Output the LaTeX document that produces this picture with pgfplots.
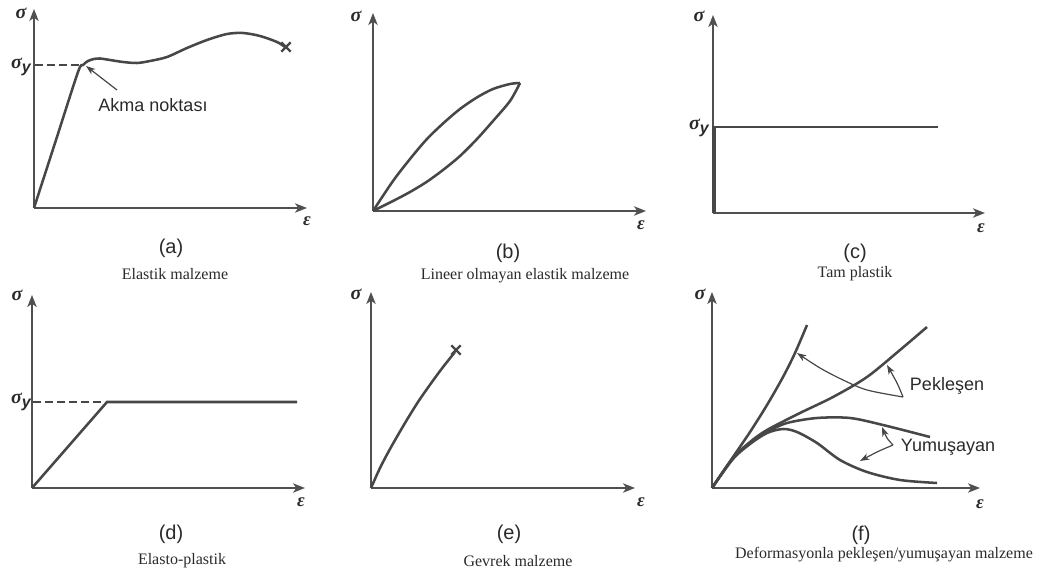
\documentclass[border=0pt]{standalone}
\usepackage{pgfplots}
\pgfplotsset{compat=1.18}
\usetikzlibrary{arrows.meta}
\usepackage{fontspec}
\setmainfont{Liberation Serif}
\newfontfamily\hv{Liberation Sans}

\definecolor{curve}{HTML}{474747}
\definecolor{axisgray}{HTML}{505050}
\definecolor{ink}{HTML}{2A2A2A}

% symbols and labels
\newcommand{\sig}{{\fontsize{15}{15}\selectfont\bfseries\itshape σ}}
\newcommand{\sigy}{{\fontsize{15}{15}\selectfont\bfseries\itshape σ\raisebox{-0.35ex}{\fontsize{12}{12}\selectfont\hv\bfseries\itshape y}}}
\newcommand{\eps}{{\fontsize{14}{14}\selectfont\bfseries\itshape ε}}
\newcommand{\ptag}[1]{{\hv\fontsize{15}{17}\selectfont #1}}
\newcommand{\capt}[1]{{\fontsize{12}{14}\selectfont #1}}
\newcommand{\note}[1]{{\hv\fontsize{13.5}{16}\selectfont #1}}

\pgfplotsset{
  panel/.style={
    x=0.75pt, y=0.75pt, anchor=south west,
    axis lines=left, clip=false,
    xtick=\empty, ytick=\empty,
    axis line style={line width=1.4pt, draw=axisgray,
      -{Stealth[length=9pt,width=7pt,inset=2.5pt]}},
  },
  crv/.style={line width=1.9pt, draw=curve, no markers},
  brk/.style={line width=1.7pt, draw=curve, mark=x, mark size=5pt,
    only marks},
  pointer/.style={line width=0.9pt, draw=curve, no markers,
    -{Stealth[length=7pt,width=5pt,inset=2pt]}},
}

\begin{document}
\begin{tikzpicture}
\path[use as bounding box] (0,0) rectangle (783pt,428.25pt);

% (a) elastic material with yield point
\begin{axis}[panel, at={(34*0.75pt,363*0.75pt)},
  xmin=34, xmax=307, ymin=363, ymax=562]
  \addplot[crv, smooth, tension=0.5] coordinates {
    (34,363) (56,431) (78,499) (83,506) (88,510) (94,512) (100,512.5)
    (110,511) (123,509) (137,508) (150,510) (167,514) (187,523)
    (207,531) (227,537) (243,538) (260,535) (277,529) (285,524)};
  \addplot[brk] coordinates {(286,524)};
  \addplot[line width=1.3pt, draw=curve, dash pattern=on 6pt off 3pt,
    no markers] coordinates {(35,506) (80,506)};
  \addplot[pointer] coordinates {(117,481) (86,505)};
  \node[ink] at (153,466) {\note{Akma noktası}};
  \node[ink] at (21,558) {\sig};
  \node[ink] at (21,504) {\sigy};
  \node[ink] at (307,350) {\eps};
  \node[ink] at (171,323) {\ptag{(a)}};
  \node[ink] at (175,297) {\capt{Elastik malzeme}};
\end{axis}

% (b) nonlinear elastic material
\begin{axis}[panel, at={(373*0.75pt,360*0.75pt)},
  xmin=373, xmax=646, ymin=360, ymax=558]
  \addplot[crv, smooth] coordinates {
    (373,360) (393,390) (410,412) (426.5,431.5) (443,447.5) (460,462)
    (477,473.6) (493,482) (510,487) (520,488)};
  \addplot[crv, smooth] coordinates {
    (373,360) (393,370) (410,379) (426.5,389) (443,401) (460,415)
    (477,432) (493,450) (510,470) (520,488)};
  \node[ink] at (356,555) {\sig};
  \node[ink] at (641,346) {\eps};
  \node[ink] at (508,318) {\ptag{(b)}};
  \node[ink] at (525,295) {\capt{Lineer olmayan elastik malzeme}};
\end{axis}

% (c) perfectly plastic
\begin{axis}[panel, at={(713*0.75pt,358*0.75pt)},
  xmin=713, xmax=985, ymin=358, ymax=556]
  \addplot[line width=3pt, draw=curve, no markers] coordinates {
    (714,358) (714,445)};
  \addplot[crv] coordinates {(714,444) (938,444)};
  \node[ink] at (699,555) {\sig};
  \node[ink] at (699,443) {\sigy};
  \node[ink] at (981,343) {\eps};
  \node[ink] at (855,318) {\ptag{(c)}};
  \node[ink] at (855,297) {\capt{Tam plastik}};
\end{axis}

% (d) elasto-plastic
\begin{axis}[panel, at={(32*0.75pt,83*0.75pt)},
  xmin=32, xmax=305, ymin=83, ymax=276]
  \addplot[crv] coordinates {(32,83) (107,169) (297,169)};
  \addplot[line width=1.3pt, draw=curve, dash pattern=on 6pt off 3pt,
    no markers] coordinates {(33,169) (105,169)};
  \node[ink] at (17,276) {\sig};
  \node[ink] at (21,169) {\sigy};
  \node[ink] at (301,69) {\eps};
  \node[ink] at (171,37) {\ptag{(d)}};
  \node[ink] at (182,10) {\capt{Elasto-plastik}};
\end{axis}

% (e) brittle material
\begin{axis}[panel, at={(371*0.75pt,83*0.75pt)},
  xmin=371, xmax=635, ymin=83, ymax=279]
  \addplot[crv, smooth] coordinates {
    (371,83) (380,103) (390,122) (405,148) (420,172) (440,200) (455,219)};
  \addplot[brk] coordinates {(456,221)};
  \node[ink] at (356,277) {\sig};
  \node[ink] at (641,69) {\eps};
  \node[ink] at (509,37) {\ptag{(e)}};
  \node[ink] at (518,10) {\capt{Gevrek malzeme}};
\end{axis}

% (f) strain hardening / softening
\begin{axis}[panel, at={(712*0.75pt,83*0.75pt)},
  xmin=712, xmax=980, ymin=83, ymax=279]
  % hardening, steep
  \addplot[crv, smooth] coordinates {
    (712,83) (733,114) (750,139) (767,166) (783,194) (795,218) (807,246)};
  % hardening, gradual
  \addplot[crv, smooth] coordinates {
    (712,83) (733,113) (750,129) (767,141) (800,158) (833,174) (867,194)
    (900,221) (927,244)};
  % softening, mild
  \addplot[crv, smooth] coordinates {
    (712,83) (733,113) (750,128) (767,139) (787,148) (817,153) (850,153)
    (883,146) (930,134)};
  % softening, strong
  \addplot[crv, smooth] coordinates {
    (712,83) (733,112) (750,127) (767,138) (783,142) (797,139) (817,128)
    (840,111) (867,99) (900,91) (937,88)};
  \addplot[pointer, smooth] coordinates {(903,174) (867,181) (843,191) (820,203) (797,218)};
  \addplot[pointer, smooth] coordinates {(903,174) (897,188) (887,206)};
  \addplot[pointer, smooth] coordinates {(893,126) (887,133) (882,144)};
  \addplot[pointer, smooth] coordinates {(893,126) (877,119) (860,110)};
  \node[ink] at (947,185) {\note{Pekleşen}};
  \node[ink] at (948,124) {\note{Yumuşayan}};
  \node[ink] at (700,277) {\sig};
  \node[ink] at (980,67) {\eps};
  \node[ink] at (861,36) {\ptag{(f)}};
  \node[ink] at (884,16) {\capt{Deformasyonla pekleşen/yumuşayan malzeme}};
\end{axis}
\end{tikzpicture}
\end{document}
